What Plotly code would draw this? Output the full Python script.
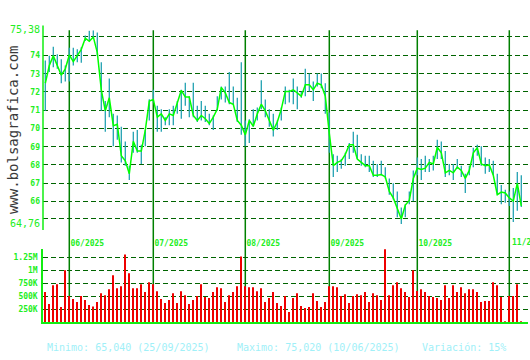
import plotly.graph_objects as go

# ---------------- data ----------------
close = [72.48, 73.45, 73.98, 73.45, 72.92, 73.27, 74.03, 73.66, 73.98, 74.34,
         74.95, 74.78, 75.02, 74.16, 72.12, 70.97, 71.68, 70.15, 70.23, 68.50,
         68.23, 67.52, 69.29, 68.76, 68.76, 69.91, 71.50, 71.59, 70.62, 70.80,
         70.44, 70.80, 70.71, 71.42, 72.09, 71.72, 71.72, 70.71, 70.44, 70.71,
         70.53, 70.27, 70.62, 71.06, 72.25, 71.95, 71.42, 71.33, 70.44, 70.18,
         69.65, 70.44, 70.12, 70.80, 71.33, 70.97, 70.44, 69.91, 70.35, 71.06,
         72.03, 72.03, 72.12, 71.95, 71.77, 72.39, 72.39, 72.12, 72.48, 72.39,
         71.77, 69.73, 67.96, 68.14, 68.23, 68.58, 69.11, 69.11, 68.32, 68.14,
         67.96, 67.96, 67.43, 67.43, 67.47, 67.34, 66.55, 66.19, 65.57, 65.04,
         65.80, 66.05, 67.26, 67.82, 67.75, 67.82, 68.14, 68.05, 68.97, 68.67,
         67.57, 67.70, 67.57, 67.88, 67.70, 67.26, 67.70, 68.67, 68.94, 68.05,
         67.96, 68.00, 67.43, 66.37, 66.51, 66.46, 66.19, 66.02, 66.99, 65.75]

high = [73.72, 73.98, 74.48, 74.07, 73.80, 73.45, 74.42, 74.42, 74.34, 74.45,
        75.10, 75.36, 75.38, 75.26, 73.63, 71.50, 72.74, 70.80, 70.71, 70.09,
        69.29, 67.96, 69.82, 69.91, 69.11, 69.91, 71.60, 72.12, 71.24, 71.06,
        70.62, 71.06, 71.24, 71.50, 72.12, 72.51, 71.77, 72.51, 71.24, 71.50,
        71.24, 70.80, 70.71, 71.77, 72.30, 72.30, 73.10, 72.30, 71.68, 73.63,
        70.44, 70.50, 71.06, 71.15, 72.65, 71.59, 71.06, 70.80, 70.44, 71.15,
        72.30, 72.12, 72.74, 72.30, 72.03, 73.27, 73.01, 72.57, 73.01, 73.01,
        72.48, 70.88, 68.58, 68.50, 68.32, 68.67, 69.20, 69.82, 69.65, 68.58,
        68.50, 68.50, 68.23, 68.05, 68.23, 67.88, 67.26, 66.99, 66.55, 65.66,
        65.84, 66.55, 67.70, 68.41, 68.32, 68.50, 68.32, 68.50, 69.38, 69.29,
        68.76, 68.05, 68.05, 68.32, 67.96, 67.52, 67.96, 68.94, 69.11, 69.03,
        68.41, 68.32, 68.23, 67.52, 66.90, 66.64, 66.55, 66.73, 67.61, 67.43]

low = [70.97, 73.10, 73.36, 73.27, 72.48, 72.57, 72.57, 73.45, 73.63, 73.60,
       74.80, 74.78, 74.90, 73.98, 70.97, 69.82, 70.62, 69.03, 69.38, 68.14,
       67.96, 67.17, 68.67, 68.67, 68.05, 69.03, 70.44, 71.42, 69.82, 69.82,
       70.18, 70.18, 70.18, 70.80, 70.53, 71.24, 70.62, 70.62, 70.35, 70.44,
       70.35, 70.18, 69.91, 70.97, 71.59, 71.42, 71.33, 71.33, 70.35, 69.65,
       69.03, 69.20, 70.09, 70.44, 71.06, 70.62, 70.09, 69.56, 69.91, 70.44,
       71.33, 71.42, 71.33, 71.06, 71.68, 71.77, 72.03, 71.50, 72.30, 72.21,
       70.80, 68.67, 67.34, 67.61, 67.79, 67.96, 68.32, 68.67, 68.32, 67.96,
       67.88, 67.61, 67.34, 67.34, 67.43, 67.26, 66.37, 66.11, 65.13, 64.76,
       65.13, 65.84, 66.02, 67.43, 67.17, 67.61, 67.61, 67.70, 68.32, 68.32,
       67.34, 67.43, 67.17, 67.79, 67.34, 66.46, 67.43, 67.88, 68.50, 67.96,
       67.52, 67.61, 67.43, 66.37, 65.84, 65.93, 65.75, 64.87, 65.49, 65.70]

volume_k = [576, 346, 709, 728, 289, 996, 500, 442, 384, 499,
            423, 327, 301, 384, 556, 518, 633, 900, 652, 690,
            1302, 939, 652, 652, 728, 576, 767, 728, 595, 442,
            365, 423, 556, 365, 595, 518, 346, 423, 499, 728,
            480, 461, 576, 671, 652, 384, 518, 576, 690, 1264,
            690, 671, 671, 595, 652, 384, 461, 576, 365, 308,
            499, 193, 461, 556, 308, 270, 289, 556, 403, 289,
            384, 690, 690, 671, 499, 537, 365, 499, 537, 518,
            576, 384, 556, 518, 423, 1417, 518, 709, 767, 652,
            576, 480, 996, 600, 633, 576, 499, 480, 461, 423,
            709, 461, 709, 576, 671, 556, 633, 633, 576, 384,
            403, 403, 767, 709, 480, 8, 499, 499, 728, 8]

month_idx = [6, 27, 50, 71, 93, 116]
month_labels = ["06/2025", "07/2025", "08/2025", "09/2025", "10/2025", ""]
last_month_label = "11/2"   # the reference shows this label cut off at the right edge

price_ticks = [64.76, 65.04, 66, 67, 68, 69, 70, 71, 72, 73, 74, 75.02, 75.38]
price_labels = ["64,76", "", "66", "67", "68", "69", "70", "71", "72", "73", "74", "", "75,38"]

vol_ticks = [250000, 500000, 750000, 1000000, 1250000]
vol_labels = ["250K", "500K", "750K", "1M", "1.25M"]

stats_text = ["Minimo: 65,040 (25/09/2025)", "Maximo: 75,020 (10/06/2025)", "Variación: 15%"]
watermark = "www.bolsagrafica.com"

# ---------------- layout helpers ----------------
W, H = 530, 360
def px(x):
    return x / W
def py(y):
    return 1 - y / H

MONO = "DejaVu Sans Mono"
LIME = "#22EE22"
GRID = "#006400"

xs = list(range(len(close)))
volume = [v * 1000 for v in volume_k]

hl_x, hl_y = [], []
for i, (h, l) in enumerate(zip(high, low)):
    hl_x += [i, i, None]
    hl_y += [l, h, None]

big = "<span style='font-size:10px;font-weight:normal'>{}</span>"
price_ticktext = [big.format(t) if "," in t else t for t in price_labels]

fig = go.Figure()
fig.add_trace(go.Scatter(x=hl_x, y=hl_y, mode="lines",
                         line=dict(color="#22A2B2", width=1.3),
                         xaxis="x", yaxis="y", hoverinfo="skip"))
fig.add_trace(go.Scatter(x=xs, y=close, mode="lines",
                         line=dict(color="#00FF00", width=1.5),
                         xaxis="x", yaxis="y"))
fig.add_trace(go.Bar(x=xs, y=volume, width=0.25,
                     marker=dict(color="#EE0000", line=dict(width=0)),
                     xaxis="x2", yaxis="y2"))

xr = [-0.575, 120.675]
shapes = []
for m in month_idx:
    shapes.append(dict(type="line", xref="x", yref="paper", x0=m, x1=m,
                       y0=py(326), y1=py(25), layer="between",
                       line=dict(color="#008000", width=1.5)))
shapes.append(dict(type="line", xref="paper", yref="paper", x0=px(43), x1=px(43),
                   y0=py(231), y1=py(20), line=dict(color="#11EE11", width=1.5)))

annotations = [dict(text=watermark, x=px(13), y=py(128), xref="paper", yref="paper",
                    textangle=-90, showarrow=False, xanchor="center", yanchor="middle",
                    font=dict(family=MONO, size=14, color="#3a3a3a"))]
annotations.append(dict(text=last_month_label, x=month_idx[-1], xref="x", xshift=1,
                        y=py(244), yref="paper", showarrow=False,
                        xanchor="left", yanchor="middle",
                        font=dict(family=MONO, size=8, color=LIME, weight="bold")))
for txt, x0 in zip(stats_text, [45, 235, 420]):
    annotations.append(dict(text=txt, x=px(x0), y=py(352), xref="paper", yref="paper",
                            showarrow=False, xanchor="left", yanchor="middle",
                            font=dict(family=MONO, size=10, color="#A0F0F8")))

fig.update_layout(
    width=W, height=H,
    margin=dict(l=0, r=0, t=0, b=0),
    paper_bgcolor="white", plot_bgcolor="white",
    showlegend=False, hovermode=False,
    shapes=shapes, annotations=annotations,
    xaxis=dict(domain=[px(43), px(528)], range=xr, anchor="y",
               tickvals=month_idx, ticktext=month_labels, ticks="",
               tickfont=dict(family=MONO, size=8, color=LIME, weight="bold"),
               ticklabelshift=18, ticklabelstandoff=13,
               showgrid=False, zeroline=False, showline=False),
    yaxis=dict(domain=[py(225), py(25)], range=[64.755, 75.385], anchor="x",
               tickvals=price_ticks, ticktext=price_ticktext, ticks="",
               tickfont=dict(family=MONO, size=8, color=LIME, weight="bold"),
               ticklabelstandoff=2,
               showgrid=True, gridcolor=GRID, gridwidth=1, griddash="5px,3px",
               zeroline=False, showline=False),
    xaxis2=dict(domain=[px(43), px(528)], range=xr, anchor="y2",
                showticklabels=False, ticks="", showgrid=False, zeroline=False,
                showline=True, linecolor="#11EE11", linewidth=1.5),
    yaxis2=dict(domain=[py(326), py(251)], range=[0, 1.4e6], anchor="x2",
                tickvals=vol_ticks, ticktext=vol_labels, ticks="",
                tickfont=dict(family=MONO, size=8, color=LIME, weight="bold"),
                ticklabelstandoff=2,
                showgrid=True, gridcolor=GRID, gridwidth=1, griddash="5px,3px",
                zeroline=False, showline=True, linecolor="#11EE11", linewidth=1.5),
)

fig.write_html("out.html")
